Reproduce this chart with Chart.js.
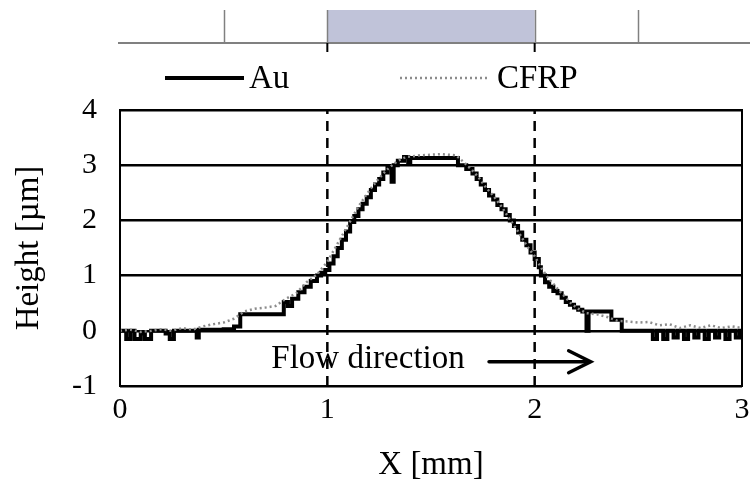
<!DOCTYPE html>
<html>
<head>
<meta charset="utf-8">
<script src="https://cdn.jsdelivr.net/npm/chart.js@4/dist/chart.umd.min.js"></script>
<style>
  html, body { margin: 0; padding: 0; background: #fff; }
  #wrap { width: 750px; height: 488px; }
</style>
</head>
<body>
<div id="wrap"><canvas id="c" width="750" height="488"></canvas></div>
<script>
// Surface profile along X (mm) -> height (µm)
const auX = [0.00,0.03,0.05,0.07,0.10,0.12,0.15,0.20,0.22,0.24,0.26,0.36,0.37,0.38,0.50,0.55,0.58,0.78,0.79,0.81,
             0.83,0.86,0.89,0.92,0.95,0.97,0.99,1.01,1.03,1.05,1.07,1.09,1.11,1.13,1.15,1.17,1.19,1.21,1.23,1.25,
             1.27,1.29,1.31,1.32,1.34,1.37,1.39,1.40,1.62,1.63,1.67,1.70,1.72,1.74,1.76,1.78,1.80,1.82,1.84,1.86,
             1.88,1.90,1.92,1.94,1.96,1.98,2.00,2.02,2.03,2.05,2.07,2.09,2.11,2.13,2.15,2.17,2.19,2.21,2.23,2.25,
             2.26,2.37,2.42,2.55,2.57,2.59,2.62,2.64,2.67,2.69,2.72,2.74,2.77,2.79,2.82,2.84,2.87,2.89,2.92,2.94,
             2.97,2.99,3.00];
const auY = [0.00,-0.15,0.00,-0.15,-0.05,-0.15,0.00,0.00,-0.05,-0.15,0.00,0.00,-0.12,0.02,0.03,0.08,0.30,0.30,0.52,0.45,
             0.58,0.70,0.80,0.90,1.00,1.05,1.10,1.22,1.35,1.50,1.65,1.80,1.97,2.08,2.20,2.30,2.42,2.55,2.65,2.75,
             2.87,2.95,2.70,3.00,3.08,3.15,3.05,3.13,3.13,3.00,2.93,2.85,2.75,2.65,2.55,2.45,2.38,2.28,2.20,2.10,
             2.00,1.90,1.78,1.65,1.55,1.42,1.30,1.15,1.00,0.88,0.80,0.72,0.68,0.60,0.52,0.47,0.42,0.38,0.35,0.00,
             0.35,0.20,0.00,0.00,-0.15,0.00,-0.15,0.00,-0.12,0.00,-0.15,0.00,-0.12,0.00,-0.15,0.00,-0.12,0.00,-0.15,0.00,
             -0.12,0.00,0.00];

const cfrpX = [0.00,0.05,0.10,0.15,0.20,0.25,0.30,0.35,0.40,0.45,0.50,0.55,0.60,0.65,0.70,0.75,0.80,0.85,0.90,0.95,
               1.00,1.03,1.06,1.09,1.12,1.15,1.18,1.21,1.24,1.27,1.30,1.34,1.38,1.45,1.55,1.62,1.66,1.70,1.73,1.76,
               1.80,1.84,1.88,1.92,1.96,2.00,2.03,2.06,2.09,2.12,2.15,2.18,2.21,2.25,2.30,2.35,2.40,2.45,2.50,2.55,
               2.60,2.65,2.70,2.75,2.80,2.85,2.90,2.95,3.00];
const cfrpY = [0.00,0.02,-0.02,0.00,0.03,0.00,0.05,0.02,0.08,0.12,0.15,0.22,0.35,0.40,0.42,0.45,0.58,0.68,0.88,1.02,
               1.25,1.45,1.65,1.85,2.05,2.25,2.42,2.58,2.72,2.85,2.96,3.08,3.15,3.18,3.20,3.18,3.05,2.90,2.78,2.62,
               2.45,2.25,2.02,1.80,1.55,1.35,1.15,0.98,0.85,0.72,0.60,0.48,0.40,0.32,0.30,0.25,0.18,0.17,0.15,0.16,
               0.10,0.12,0.05,0.10,0.05,0.10,0.05,0.08,0.05];

const xTicks = [0, 1, 2, 3];
const yTicks = [-1, 0, 1, 2, 3, 4];
const guideX = [1, 2];          // dashed markers on the plot
const bandRange = [1, 2];       // shaded region in the strip above
const stripMarks = [0.5, 2.5];  // thin marks in the strip
const flowLabel = 'Flow direction';
const flowText = { x: 0.73, y: -0.52 };
const flowArrow = { x0: 1.78, x1: 2.27, y: -0.56 };

const SERIF = '"Liberation Serif", "Times New Roman", serif';
const TEXT_SIZE = 33;
const TICK_SIZE = 30;

const toPts = (xs, ys) => xs.map((v, i) => ({ x: v, y: ys[i] }));

const guideSets = guideX.map(v => ({
  data: [{ x: v, y: yTicks[0] }, { x: v, y: yTicks[yTicks.length - 1] }],
  showLine: true, borderColor: '#000', borderWidth: 2.5, borderDash: [10, 7],
  pointRadius: 0, order: 3
}));

const decor = {
  id: 'decor',
  afterDraw(chart) {
    const { ctx, chartArea: a, scales: { x, y } } = chart;
    ctx.save();

    // plot frame
    ctx.strokeStyle = '#000';
    ctx.lineWidth = 2;
    ctx.strokeRect(a.left, a.top, a.right - a.left, a.bottom - a.top);

    // strip diagram above the plot
    const sBase = 43, sTop = 10;
    const b0 = x.getPixelForValue(bandRange[0]);
    const b1 = x.getPixelForValue(bandRange[1]);
    ctx.fillStyle = '#c0c3d9';
    ctx.fillRect(b0, sTop, b1 - b0, sBase - sTop);
    ctx.strokeStyle = '#808080';
    ctx.lineWidth = 1.5;
    [...stripMarks, ...bandRange].forEach(v => {
      const px = Math.round(x.getPixelForValue(v)) + 0.5;
      ctx.beginPath(); ctx.moveTo(px, sTop); ctx.lineTo(px, sBase); ctx.stroke();
    });
    ctx.lineWidth = 2;
    ctx.beginPath(); ctx.moveTo(a.left - 2, sBase); ctx.lineTo(chart.width, sBase); ctx.stroke();
    ctx.strokeStyle = '#000';
    ctx.lineWidth = 2;
    bandRange.forEach(v => {
      const px = x.getPixelForValue(v);
      ctx.beginPath(); ctx.moveTo(px, sBase); ctx.lineTo(px, sBase + 9); ctx.stroke();
    });

    // legend
    ctx.font = TEXT_SIZE + 'px ' + SERIF;
    ctx.fillStyle = '#000';
    ctx.textBaseline = 'middle';
    ctx.textAlign = 'left';
    ctx.strokeStyle = '#000';
    ctx.lineWidth = 4;
    ctx.beginPath(); ctx.moveTo(165, 78); ctx.lineTo(244, 78); ctx.stroke();
    ctx.fillText('Au', 249, 79);
    ctx.strokeStyle = '#8c8c8c';
    ctx.lineWidth = 2.5;
    ctx.setLineDash([2, 3]);
    ctx.beginPath(); ctx.moveTo(400, 78); ctx.lineTo(487, 78); ctx.stroke();
    ctx.setLineDash([]);
    ctx.fillText('CFRP', 497, 79);

    // flow direction label and arrow
    ctx.fillText(flowLabel, x.getPixelForValue(flowText.x), y.getPixelForValue(flowText.y));
    const ax0 = x.getPixelForValue(flowArrow.x0);
    const ax1 = x.getPixelForValue(flowArrow.x1);
    const ay = y.getPixelForValue(flowArrow.y);
    ctx.strokeStyle = '#000';
    ctx.lineWidth = 3.5;
    ctx.lineCap = 'round';
    ctx.beginPath(); ctx.moveTo(ax0, ay); ctx.lineTo(ax1 - 2, ay); ctx.stroke();
    ctx.beginPath();
    ctx.moveTo(ax1 - 22, ay - 11); ctx.lineTo(ax1, ay); ctx.lineTo(ax1 - 22, ay + 11);
    ctx.stroke();
    ctx.restore();
  }
};

new Chart(document.getElementById('c'), {
  type: 'scatter',
  data: {
    datasets: [
      {
        label: 'Au', data: toPts(auX, auY), showLine: true, stepped: true,
        borderColor: '#000', borderWidth: 4, pointRadius: 0, order: 2
      },
      {
        label: 'CFRP', data: toPts(cfrpX, cfrpY), showLine: true,
        borderColor: '#8c8c8c', borderWidth: 2.5, borderDash: [2, 3], pointRadius: 0, order: 1
      },
      ...guideSets
    ]
  },
  options: {
    responsive: false,
    animation: false,
    devicePixelRatio: 1,
    layout: { padding: { top: 110, right: 8, left: 0, bottom: 0 } },
    plugins: { legend: { display: false }, tooltip: { enabled: false } },
    scales: {
      x: {
        type: 'linear', min: xTicks[0], max: xTicks[xTicks.length - 1],
        afterBuildTicks: s => { s.ticks = xTicks.map(v => ({ value: v })); },
        afterFit: s => { s.height = 102; s.paddingLeft = 0; s.paddingRight = 0; },
        grid: { display: false, drawTicks: false },
        border: { display: false },
        ticks: { color: '#000', font: { family: SERIF, size: TICK_SIZE }, padding: 6, maxRotation: 0 },
        title: { display: true, text: 'X [mm]', color: '#000', font: { family: SERIF, size: TEXT_SIZE }, padding: { bottom: 3, top: 0 } }
      },
      y: {
        min: yTicks[0], max: yTicks[yTicks.length - 1],
        afterBuildTicks: s => { s.ticks = yTicks.map(v => ({ value: v })); },
        afterFit: s => { s.width = 120; s.paddingTop = 0; s.paddingBottom = 0; },
        grid: { color: '#000', lineWidth: 2.5, drawTicks: false },
        border: { display: false },
        ticks: { color: '#000', font: { family: SERIF, size: TICK_SIZE }, padding: 23 },
        title: { display: true, text: 'Height [µm]', color: '#000', font: { family: SERIF, size: TEXT_SIZE }, padding: { top: 10, bottom: 0 } }
      }
    }
  },
  plugins: [decor]
});
</script>
</body>
</html>
